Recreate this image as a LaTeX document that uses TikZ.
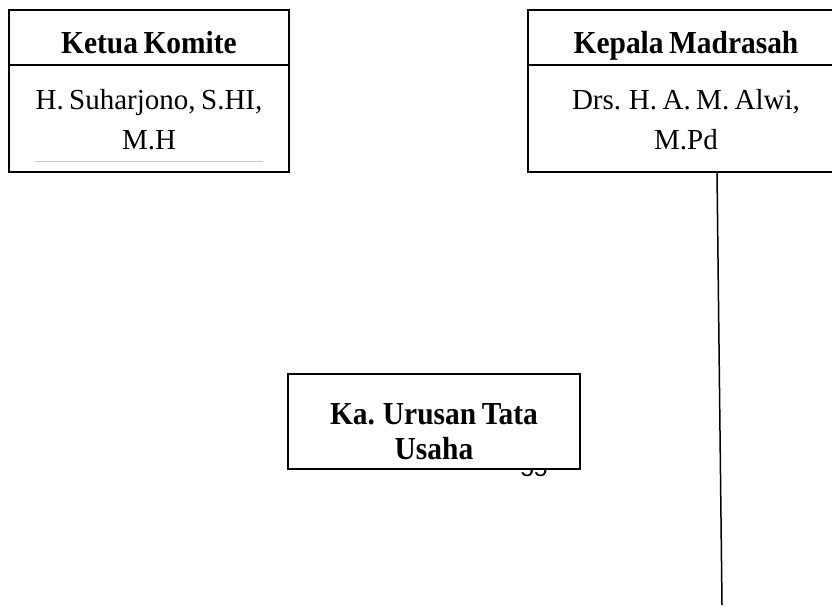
\documentclass[tikz,border=0pt]{standalone}
\usepackage{fontspec}
\setmainfont[WordSpace=0.75]{Liberation Serif}
\newfontfamily\titlefont[FakeStretch=0.92,WordSpace=0.75]{Liberation Serif}
\newfontfamily\pagefont{Liberation Sans}
\begin{document}
\begin{tikzpicture}[x=1pt,y=-1pt,
  box/.style={draw, line width=1.5pt, fill=white, inner sep=0pt, outer sep=0pt},
  ttl/.style={font=\titlefont\fontsize{32}{34}\selectfont\bfseries, anchor=base, inner sep=0pt},
  nm/.style={font=\fontsize{29}{34}\selectfont, anchor=base, inner sep=0pt}]
\useasboundingbox (0,0) rectangle (832,614);
\clip (0,0) rectangle (832,614);
\fill[white] (0,0) rectangle (832,614);
% Ketua Komite
\node[box, minimum width=280pt, minimum height=162pt] (ketua) at (149,91) {};
\draw[line width=1.5pt] (ketua.west |- 0,65) -- (ketua.east |- 0,65);
\node[ttl] (ketuat) at (149,53) {Ketua Komite};
\node[nm] (ketuan1) at (149,109) {H. Suharjono, S.HI,};
\node[nm] (ketuan2) at (149,149) {M.H};
\draw[gray!45, line width=0.6pt] (35,161) -- (263,161);
% Kepala Madrasah
\node[box, minimum width=316pt, minimum height=162pt] (kepala) at (686,91) {};
\draw[line width=1.5pt] (kepala.west |- 0,65) -- (kepala.east |- 0,65);
\node[ttl] (kepalat) at (686,53) {Kepala Madrasah};
\node[nm] (kepalan1) at (686,109) {Drs. H. A. M. Alwi,};
\node[nm] (kepalan2) at (686,149) {M.Pd};
% page number partly hidden
\node[font=\fontsize{24}{28}\selectfont\pagefont, anchor=base, inner sep=0pt] (pg) at (534,476) {55};
% Ka. Urusan Tata Usaha
\node[box, minimum width=292pt, minimum height=95pt] (ka) at (434,421.5) {};
\node[ttl] (kat1) at (434,424) {Ka. Urusan Tata};
\node[ttl] (kat2) at (434,459) {Usaha};
% connector
\coordinate (ls) at (717,172);
\coordinate (le) at (722,605);
\draw[line width=1.5pt] (ls) -- (le);
\end{tikzpicture}
\end{document}
